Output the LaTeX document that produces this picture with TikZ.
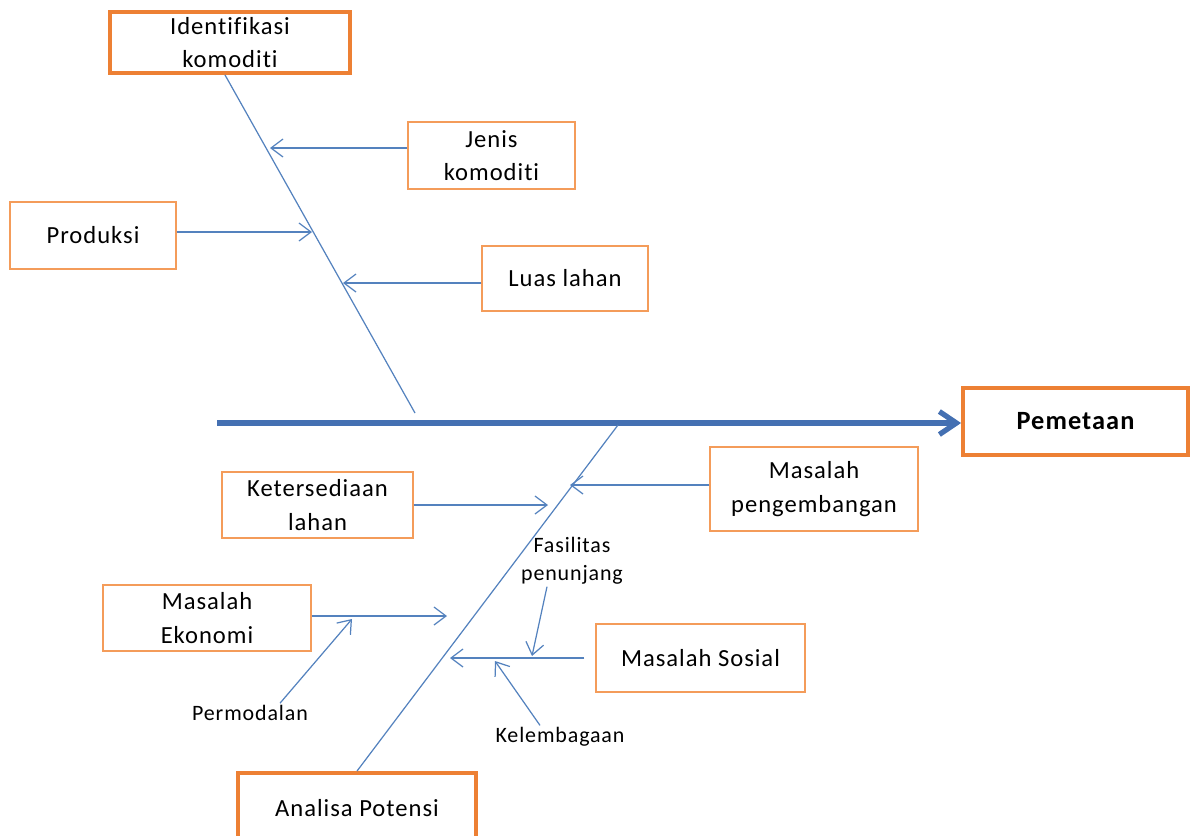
\documentclass[tikz,border=0pt]{standalone}
\usepackage{fontspec}
\setmainfont{Carlito}[Ligatures=NoCommon, LetterSpace=4]
\usetikzlibrary{arrows.meta}
\definecolor{boxorange}{RGB}{244,156,90}
\definecolor{edgeorange}{RGB}{237,128,52}
\definecolor{boneblue}{RGB}{84,130,190}
\definecolor{spineblue}{RGB}{68,112,178}

\begin{document}
\begin{tikzpicture}[x=0.2mm, y=-0.2mm,
    cause/.style={rectangle, draw=boxorange, line width=0.8pt, text centered, align=center, inner sep=0pt, font=\fontsize{14}{19}\selectfont},
    effect/.style={rectangle, draw=edgeorange, line width=2.2pt, text centered, align=center, inner sep=0pt, font=\fontsize{14}{19}\selectfont},
    sublabel/.style={align=center, inner sep=1pt, font=\fontsize{12.5}{16}\selectfont},
    bone/.style={draw=boneblue, line width=0.7pt},
    arrow/.style={draw=boneblue, line width=0.7pt, -{Straight Barb[length=2.4mm, width=3.6mm]}},
    spine/.style={draw=spineblue, line width=3pt, -{Straight Barb[length=3.4mm, width=4.6mm]}}]

    \clip (0,0) rectangle (1191,835);

    % heads and causes
    \node (ident) [effect, minimum width=48mm, minimum height=12.2mm] at (230,42.5) {Identifikasi\\komoditi};
    \node (jenis) [cause, minimum width=33.4mm, minimum height=13.4mm] at (491.5,155.5) {Jenis\\komoditi};
    \node (produksi) [cause, minimum width=33.2mm, minimum height=13.4mm] at (93,235.5) {Produksi};
    \node (luas) [cause, minimum width=33.2mm, minimum height=13mm] at (565,278.5) {Luas lahan};
    \node (pemetaan) [effect, minimum width=45mm, minimum height=13.4mm, font=\fontsize{15}{19}\selectfont\bfseries] at (1075.5,421.5) {Pemetaan};
    \node (pengembangan) [cause, minimum width=41.6mm, minimum height=16.8mm] at (814,489) {Masalah\\pengembangan};
    \node (ketersediaan) [cause, minimum width=38.2mm, minimum height=13.2mm] at (317.5,505) {Ketersediaan\\lahan};
    \node (ekonomi) [cause, minimum width=41.6mm, minimum height=13.2mm] at (207,618) {Masalah\\Ekonomi};
    \node (sosial) [cause, minimum width=41.8mm, minimum height=13.6mm] at (700.5,658) {Masalah Sosial};
    \node (analisa) [effect, minimum width=47.6mm, minimum height=14mm] at (357,808) {Analisa Potensi};

    \node (fasilitas) [sublabel] at (572,561) {Fasilitas\\penunjang};
    \node (permodalan) [sublabel] at (250,713) {Permodalan};
    \node (kelembagaan) [sublabel] at (560,737) {Kelembagaan};

    \coordinate (tail) at (217,423);
    \coordinate (uend) at (415,413);
    \coordinate (lend) at (618,425);
    \coordinate (jtip) at (270,148);
    \coordinate (ptip) at (312,232);
    \coordinate (ltip) at (343,283);
    \coordinate (mtip) at (570,485);
    \coordinate (ktip) at (548,505);
    \coordinate (etip) at (447,616);
    \coordinate (stip) at (450,658);
    \coordinate (ftip) at (532,656);
    \coordinate (dtip) at (352,619);
    \coordinate (btip) at (495,661);

    % spine and bones
    \draw [spine] (tail) -- (tail -| pemetaan.west);
    \draw [bone] ([xshift=-1mm]ident.south) -- (uend);
    \draw [bone] (analisa.north) -- (lend);

    \draw [arrow] (jenis.west |- jtip) -- (jtip);
    \draw [arrow] (produksi.east |- ptip) -- (ptip);
    \draw [arrow] (luas.west |- ltip) -- (ltip);
    \draw [arrow] (pengembangan.west |- mtip) -- (mtip);
    \draw [arrow] (ketersediaan.east |- ktip) -- (ktip);
    \draw [arrow] (ekonomi.east |- etip) -- (etip);
    \draw [arrow, shorten <=2.2mm] (sosial.west |- stip) -- (stip);

    \draw [arrow] ([xshift=-5mm]fasilitas.south) -- (ftip);
    \draw [arrow] ([xshift=6mm]permodalan.north) -- (dtip);
    \draw [arrow] ([xshift=-4mm]kelembagaan.north) -- (btip);

\end{tikzpicture}
\end{document}
